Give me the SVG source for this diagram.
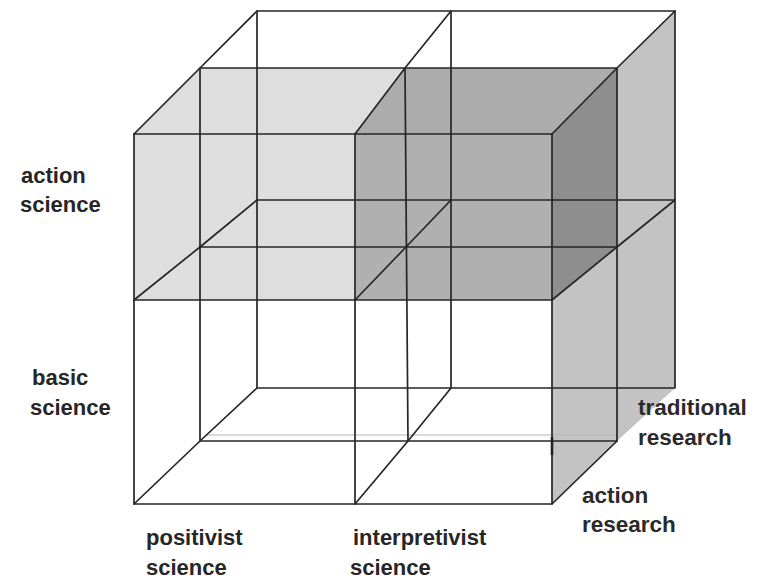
<svg xmlns="http://www.w3.org/2000/svg" width="767" height="581" viewBox="0 0 767 581">
  <style>
    .edge { fill: none; stroke: #262626; stroke-width: 1.7; stroke-linejoin: round; stroke-linecap: round; }
    .faint { fill: none; stroke: #b5b5b5; stroke-width: 1.2; }
    .lbl { font-family: "Liberation Sans", Arial, sans-serif; font-weight: bold; font-size: 22px; fill: #262626; }
    .lbl2 { font-family: "Liberation Sans", Arial, sans-serif; font-weight: bold; font-size: 22.5px; fill: #2a2a2a; }
  </style>
  <rect width="767" height="581" fill="#ffffff"/>

  <g id="side-face">
    <polygon points="552,134 675,11 675,388 617,441 552,504" fill="#c3c3c3"/>
  </g>

  <g id="action-positivist-block">
    <polygon points="134,300 134,134 200,68 405,68 355,134 355,300" fill="#dedede"/>
  </g>

  <g id="action-interpretivist-block">
    <polygon points="355,134 405,68 617,68 552,134" fill="#acacac"/>
    <polygon points="355,134 552,134 552,300 355,300" fill="#b0b0b0"/>
    <polygon points="552,134 617,68 617,247 552,300" fill="#8e8e8e"/>
  </g>

  <g id="connectors">
    <path class="faint" d="M205,435 H617"/>
    <path class="edge" d="M257,11 H675 M257,200 H675 M257,388 H675 M257,11 V388 M451,11 V388 M675,11 V388"/>
    <path class="edge" d="M200,68 H617 M200,247 H617 M200,441 H617 M200,68 V441 M405,68 L408,441 M617,68 V441"/>
    <path class="edge" d="M134,134 H552 M134,300 H552 M134,504 H552 M134,134 V504 M355,134 V504 M552,134 V504"/>
    <path class="edge" d="M134,134 L200,68 L257,11 M355,134 L405,68 L451,11 M552,134 L617,68 L675,11"/>
    <path class="edge" d="M134,300 L200,247 L257,200 M355,300 L406,247 L451,200 M552,300 L617,247 L675,200"/>
    <path class="edge" d="M134,504 L200,441 L257,388 M355,504 L408,441 L451,388 M552,504 L617,441"/>
    <path d="M552,437 V455" stroke="#222" stroke-width="2.6"/>
  </g>

  <g id="label-action-science">
    <text class="lbl" x="21" y="183">action</text>
    <text class="lbl" x="20" y="212">science</text>
  </g>
  <g id="label-basic-science">
    <text class="lbl" x="32" y="385">basic</text>
    <text class="lbl" x="30" y="415">science</text>
  </g>
  <g id="label-positivist-science">
    <text class="lbl" x="146" y="545">positivist</text>
    <text class="lbl" x="146" y="575">science</text>
  </g>
  <g id="label-interpretivist-science">
    <text class="lbl" x="353" y="545">interpretivist</text>
    <text class="lbl" x="350" y="575">science</text>
  </g>
  <g id="label-traditional-research">
    <text class="lbl2" x="638" y="415">traditional</text>
    <text class="lbl2" x="638" y="445">research</text>
  </g>
  <g id="label-action-research">
    <text class="lbl2" x="582" y="503">action</text>
    <text class="lbl2" x="582" y="532">research</text>
  </g>
</svg>
